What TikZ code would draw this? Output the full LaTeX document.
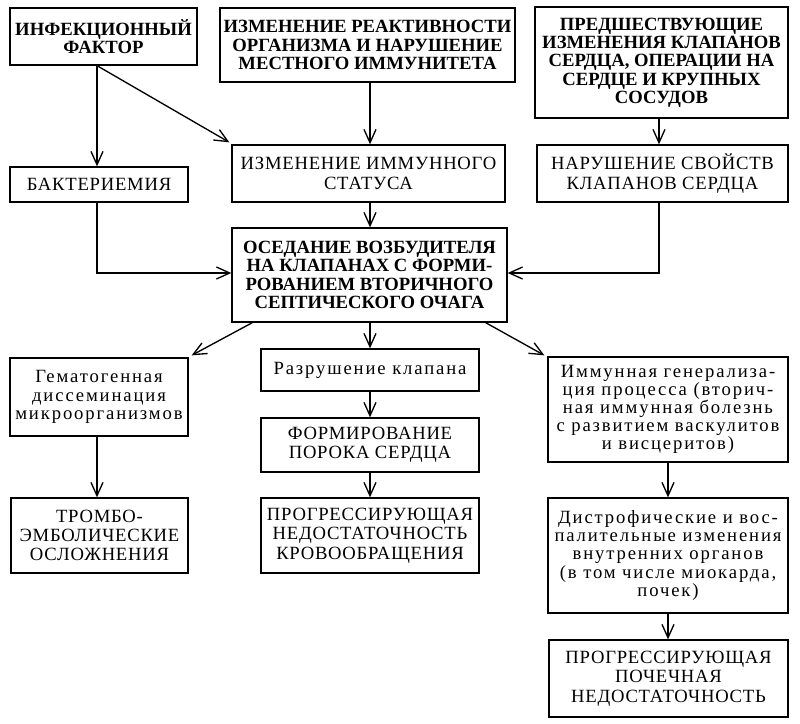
\documentclass[tikz,border=0pt]{standalone}
\usepackage{fontspec}
\setmainfont{Liberation Serif}
\newfontfamily\rgfont[LetterSpace=4]{Liberation Serif}
\newfontfamily\lcfont[LetterSpace=10]{Liberation Serif}
\usetikzlibrary{arrows.meta,calc}
\def\u{0.75pt}
\begin{document}
\begin{tikzpicture}[x=0.75pt,y=-0.75pt,
  box/.style={draw, line width=1pt, align=center, inner sep=0pt},
  bbox/.style={box, font=\fontsize{14}{13.75}\selectfont\bfseries},
  rbox/.style={box, font=\fontsize{14}{14.5}\rgfont},
  lbox/.style={box, font=\fontsize{14}{13.6}\lcfont},
  arr/.style={line width=1pt, -{Straight Barb[length=10pt,width=9pt,line width=1pt]}},
  ln/.style={line width=1pt}]
\useasboundingbox (0,0) rectangle (800,724);
\node[bbox, minimum width=187*\u, minimum height=57*\u] (b1) at (103.5,36.5) {ИНФЕКЦИОННЫЙ\\ФАКТОР};
\node[bbox, minimum width=295*\u, minimum height=74*\u] (b2) at (367.5,45) {ИЗМЕНЕНИЕ РЕАКТИВНОСТИ\\ОРГАНИЗМА И НАРУШЕНИЕ\\МЕСТНОГО ИММУНИТЕТА};
\node[bbox, minimum width=253*\u, minimum height=111*\u] (b3) at (661.5,62.5) {ПРЕДШЕСТВУЮЩИЕ\\ИЗМЕНЕНИЯ КЛАПАНОВ\\СЕРДЦА, ОПЕРАЦИИ НА\\СЕРДЦЕ И КРУПНЫХ\\СОСУДОВ};
\node[rbox, minimum width=178*\u, minimum height=35*\u] (b4) at (99,184.5) {БАКТЕРИЕМИЯ};
\node[rbox, minimum width=273*\u, minimum height=57*\u] (b5) at (368.5,173.5) {ИЗМЕНЕНИЕ ИММУННОГО\\СТАТУСА};
\node[rbox, minimum width=251*\u, minimum height=57*\u] (b6) at (662.5,173.5) {НАРУШЕНИЕ СВОЙСТВ\\КЛАПАНОВ СЕРДЦА};
\node[bbox, minimum width=275*\u, minimum height=94*\u] (b7) at (369.5,275) {ОСЕДАНИЕ ВОЗБУДИТЕЛЯ\\НА КЛАПАНАХ С ФОРМИ-\\РОВАНИЕМ ВТОРИЧНОГО\\СЕПТИЧЕСКОГО ОЧАГА};
\node[lbox, minimum width=178*\u, minimum height=78*\u] (b8) at (99,397) {Гематогенная\\диссеминация\\микроорганизмов};
\node[lbox, minimum width=218*\u, minimum height=42*\u] (b9) at (370,370) {Разрушение клапана};
\node[rbox, minimum width=218*\u, minimum height=54*\u] (b10) at (370,445) {ФОРМИРОВАНИЕ\\ПОРОКА СЕРДЦА};
\node[lbox, minimum width=240*\u, minimum height=105*\u] (b11) at (668,409.5) {Иммунная генерализа-\\ция процесса (вторич-\\ная иммунная болезнь\\с развитием васкулитов\\и висцеритов)};
\node[rbox, minimum width=177*\u, minimum height=75*\u] (b12) at (99.5,535.5) {ТРОМБО-\\ЭМБОЛИЧЕСКИЕ\\ОСЛОЖНЕНИЯ};
\node[rbox, minimum width=218*\u, minimum height=75*\u] (b13) at (370,535.5) {ПРОГРЕССИРУЮЩАЯ\\НЕДОСТАТОЧНОСТЬ\\КРОВООБРАЩЕНИЯ};
\node[lbox, minimum width=240*\u, minimum height=115*\u] (b14) at (668,555.5) {Дистрофические и вос-\\палительные изменения\\внутренних органов\\(в том числе миокарда,\\почек)};
\node[rbox, minimum width=239*\u, minimum height=77*\u] (b15) at (668.5,678.5) {ПРОГРЕССИРУЮЩАЯ\\ПОЧЕЧНАЯ\\НЕДОСТАТОЧНОСТЬ};
\coordinate (xa) at (97,0);
\coordinate (xb) at (370,0);
\coordinate (xc) at (659,0);
\coordinate (xd) at (668,0);
\draw[arr] (b1.south -| xa) -- (b4.north -| xa);
\draw[arr] (b1.south -| xa) -- ($(b5.north west)+(-2,-2)$);
\draw[arr] (b2.south -| xb) -- (b5.north -| xb);
\draw[arr] (b3.south -| xc) -- (b6.north -| xc);
\draw[arr] (b5.south -| xb) -- (b7.north -| xb);
\draw[arr] (b4.south -| xa) |- ($(b7.west)+(0,-2)$);
\draw[arr] (b6.south -| xc) |- ($(b7.east)+(0,-2)$);
\draw[arr] ($(b7.south west)+(21,0)$) -- ($(b8.north east)+(3,-2)$);
\draw[arr] (b7.south -| xb) -- (b9.north -| xb);
\draw[arr] ($(b7.south east)+(-22,0)$) -- ($(b11.north west)+(-3,-1)$);
\draw[arr] (b9.south -| xb) -- (b10.north -| xb);
\draw[arr] (b10.south -| xb) -- (b13.north -| xb);
\draw[arr] (b8.south -| xa) -- (b12.north -| xa);
\draw[arr] (b11.south -| xd) -- (b14.north -| xd);
\draw[arr] (b14.south -| xd) -- (b15.north -| xd);
\end{tikzpicture}
\end{document}
